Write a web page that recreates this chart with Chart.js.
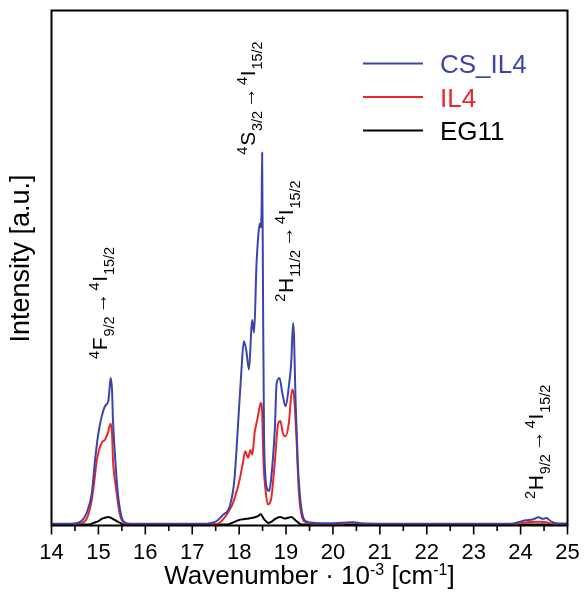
<!DOCTYPE html>
<html><head><meta charset="utf-8">
<script src="https://cdn.jsdelivr.net/npm/chart.js@4.4.1/dist/chart.umd.min.js"></script>
<style>html,body{margin:0;padding:0;background:#fff;}canvas{display:block;}</style>
</head><body>
<canvas id="c" width="584" height="602"></canvas>
<script>
const FONT = "'Liberation Sans', Arial, sans-serif";

// ---- data ----
const seriesNames = ['CS_IL4', 'IL4', 'EG11'];
const seriesColors = ['#3a44aa', '#e8262b', '#000000'];

const csX = [14.0,14.4,14.55,14.64,14.75,14.86,14.93,15.0,15.07,15.14,15.21,15.23,15.26,15.29,15.31,15.35,15.4,15.46,15.53,15.67,16.5,17.3,17.45,17.55,17.65,17.8,17.9,17.97,18.05,18.1,18.15,18.21,18.26,18.28,18.32,18.37,18.41,18.44,18.46,18.48,18.49,18.51,18.53,18.56,18.6,18.64,18.68,18.76,18.8,18.86,18.92,18.99,19.06,19.11,19.15,19.17,19.2,19.25,19.32,19.43,19.6,20.0,20.3,20.45,20.6,21.0,23.8,23.95,24.1,24.25,24.39,24.47,24.55,24.65,24.75,25.0];
const csY = [0.2,0.2,0.4,0.9,3.1,8.5,17.5,24.6,29,31.8,33.2,35.4,39.4,36.3,28.2,19.3,10.3,4,0.9,0.2,0.2,0.2,0.5,1.2,2.5,4.9,12.1,25.5,41.7,49.3,47,41.7,52.4,55,51.6,70,78,81,80,86,100,60,25,13,9.5,9,12,25.5,38,39.4,35.4,31.8,37.2,43.5,54.2,50.6,34.5,16.6,4.9,0.8,0.4,0.3,0.5,0.6,0.3,0.2,0.2,0.6,1.1,1.3,1.9,1.5,1.7,0.8,0.3,0.2];

const ilX = [14.0,14.6,14.75,14.85,14.9,14.97,15.07,15.14,15.21,15.26,15.29,15.31,15.37,15.46,15.56,15.7,17.5,17.59,17.7,17.8,17.87,18.01,18.08,18.13,18.19,18.24,18.28,18.33,18.4,18.46,18.49,18.52,18.57,18.61,18.68,18.76,18.83,18.88,18.93,18.99,19.06,19.13,19.17,19.22,19.27,19.32,19.43,19.6,20.2,20.35,20.5,20.6,23.9,24.0,24.15,24.4,24.55,24.65,24.8,25.0];
const ilY = [0,0.2,1.5,6,10.3,17.5,22,22.8,25,27.1,24.6,17.5,10.3,2.5,0.3,0,0.1,0.5,2,4,5.8,12,16.6,19.7,17.9,20,18.8,24.6,29,32.7,30,16.6,8.5,5.4,6.7,16.6,27,27.8,24.6,23.7,27.3,36.3,34.5,23.7,9.4,3.2,0.5,0.1,0.1,0.5,0.4,0.1,0,0.3,0.6,0.7,0.6,0.2,0,0];

const egX = [14.0,14.8,14.9,15.0,15.07,15.14,15.21,15.28,15.35,15.42,15.53,17.75,17.85,18.0,18.1,18.21,18.3,18.4,18.46,18.53,18.63,18.7,18.76,18.87,18.97,19.05,19.11,19.22,19.32,25.0];
const egY = [0,0,0.4,0.9,1.5,1.8,2.0,1.7,1.2,0.7,0,0,0.4,1.2,1.4,1.6,1.8,2.2,2.7,1.4,0.4,0.8,1.4,2.0,1.6,1.8,2.0,0.9,0,0];

const xMin = 14, xMax = 25;
const xTickLabels = [14,15,16,17,18,19,20,21,22,23,24,25];
const xMinorTicks = [14.5,15.5,16.5,17.5,18.5,19.5,20.5,21.5,22.5,23.5,24.5];

// transition labels: [superscript, term, subscript] -> [superscript, term, subscript]
const transitionLabels = [
  { from: ['4','F','9/2'],  to: ['4','I','15/2'], x: 15.19, y: 44.5 },
  { from: ['4','S','3/2'],  to: ['4','I','15/2'], x: 18.34, y: 99.5 },
  { from: ['2','H','11/2'], to: ['4','I','15/2'], x: 19.15, y: 59.9 },
  { from: ['2','H','9/2'],  to: ['4','I','15/2'], x: 24.48, y: 6.8 }
];
const xTitleParts = [['Wavenumber · 10','n'],['-3','s'],[' [cm','n'],['-1','s'],[']','n']];
const yTitle = 'Intensity [a.u.]';

const pts = (xs, ys) => xs.map((x, i) => ({ x, y: ys[i] }));

const decor = {
  id: 'decor',
  afterDraw(chart) {
    const ctx = chart.ctx, a = chart.chartArea;
    const xs = chart.scales.x, ys = chart.scales.y;
    ctx.save();
    // frame
    ctx.strokeStyle = '#000'; ctx.lineWidth = 2;
    ctx.strokeRect(a.left, a.top, a.right - a.left, a.bottom - a.top);
    // ticks
    ctx.lineWidth = 1.6;
    ctx.beginPath();
    xTickLabels.forEach(v => { const p = xs.getPixelForValue(v); ctx.moveTo(p, a.bottom); ctx.lineTo(p, a.bottom + 9); });
    xMinorTicks.forEach(v => { const p = xs.getPixelForValue(v); ctx.moveTo(p, a.bottom); ctx.lineTo(p, a.bottom + 5.5); });
    ctx.stroke();

    // x title
    const mainF = '26px ' + FONT, supF = '16px ' + FONT;
    let total = 0;
    xTitleParts.forEach(([t, k]) => { ctx.font = k === 'n' ? mainF : supF; total += ctx.measureText(t).width; });
    let cx = (a.left + a.right) / 2 - total / 2;
    ctx.fillStyle = '#000'; ctx.textBaseline = 'alphabetic'; ctx.textAlign = 'left';
    xTitleParts.forEach(([t, k]) => {
      ctx.font = k === 'n' ? mainF : supF;
      ctx.fillText(t, cx, k === 'n' ? 584 : 575);
      cx += ctx.measureText(t).width;
    });

    // y title
    ctx.save();
    ctx.translate(29, 258.5);
    ctx.rotate(-Math.PI / 2);
    ctx.font = '27px ' + FONT; ctx.textAlign = 'center';
    ctx.fillText(yTitle, 0, 0);
    ctx.restore();

    // legend
    chart.data.datasets.forEach((ds, i) => {
      const ly = 63.5 + i * 33.5;
      ctx.strokeStyle = ds.borderColor; ctx.lineWidth = 2;
      ctx.beginPath(); ctx.moveTo(363, ly); ctx.lineTo(423, ly); ctx.stroke();
      ctx.fillStyle = ds.borderColor; ctx.font = '26px ' + FONT; ctx.textAlign = 'left';
      ctx.fillText(ds.label, 440, ly + 9.5);
    });

    // transition labels (rotated)
    ctx.fillStyle = '#000';
    transitionLabels.forEach(L => {
      const px = xs.getPixelForValue(L.x), py = ys.getPixelForValue(L.y);
      ctx.save();
      ctx.translate(px, py);
      ctx.rotate(-Math.PI / 2);
      ctx.textAlign = 'left';
      const parts = [
        [L.from[0], 'sup'], [L.from[1], 'main'], [L.from[2], 'sub'],
        ['→', 'arrow'],
        [L.to[0], 'sup'], [L.to[1], 'main'], [L.to[2], 'sub']
      ];
      let u = 0;
      parts.forEach(([t, k]) => {
        let f = '21px ', dy = 0, pre = 0, post = 0.8;
        if (k === 'sup') { f = '14.5px '; dy = -8.5; }
        if (k === 'sub') { f = '14.5px '; dy = 7; }
        if (k === 'arrow') { f = '21px '; pre = 2; post = 2; }
        ctx.font = f + FONT;
        u += pre;
        ctx.fillText(t, u, dy);
        u += ctx.measureText(t).width + post;
      });
      ctx.restore();
    });
    ctx.restore();
  }
};

new Chart(document.getElementById('c'), {
  type: 'line',
  data: {
    datasets: [
      { label: seriesNames[0], data: pts(csX, csY), borderColor: seriesColors[0] },
      { label: seriesNames[1], data: pts(ilX, ilY), borderColor: seriesColors[1] },
      { label: seriesNames[2], data: pts(egX, egY), borderColor: seriesColors[2] }
    ]
  },
  options: {
    responsive: false,
    animation: false,
    parsing: false,
    layout: { padding: { left: 51.5, right: 16.5, top: 10.5, bottom: 0 } },
    elements: { point: { radius: 0 }, line: { borderWidth: 2, cubicInterpolationMode: 'monotone' } },
    plugins: { legend: { display: false }, tooltip: { enabled: false } },
    scales: {
      x: {
        type: 'linear', min: xMin, max: xMax,
        grid: { display: false, drawTicks: false },
        border: { display: false },
        ticks: {
          stepSize: 1, padding: 14.7, color: '#000',
          font: { family: FONT, size: 22 },
          callback: v => xTickLabels.includes(v) ? String(v) : ''
        },
        afterFit: s => { s.height = 76.5; s.paddingLeft = 0; s.paddingRight = 0; }
      },
      y: { display: false, min: -0.3, max: 138.3 }
    }
  },
  plugins: [decor]
});
</script>
</body></html>
